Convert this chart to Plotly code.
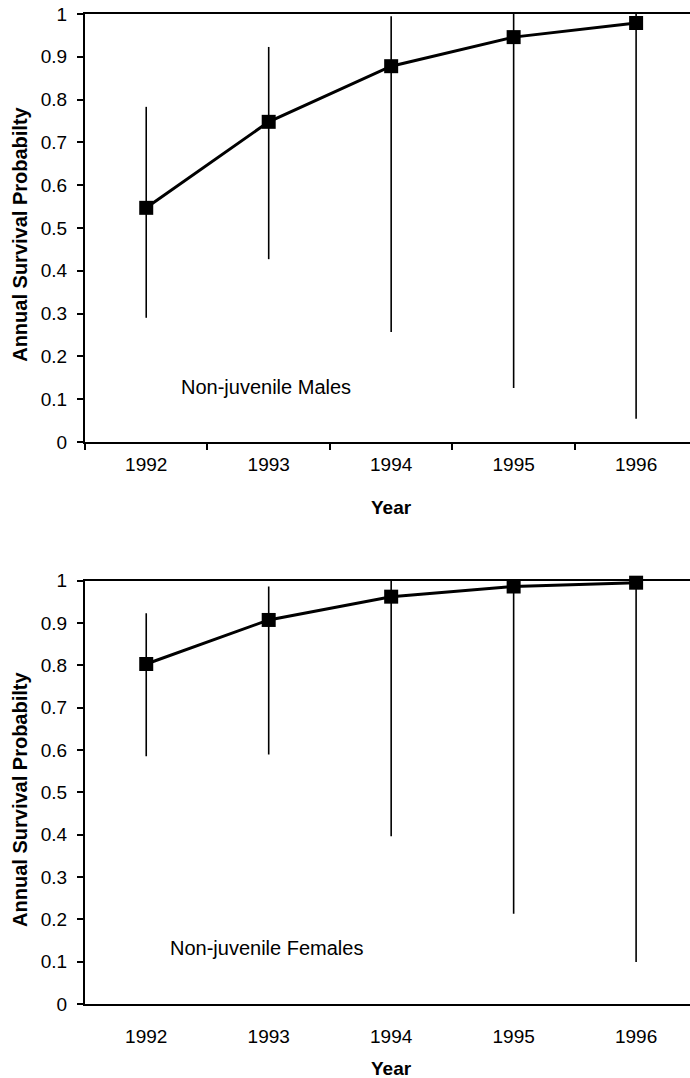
import plotly.graph_objects as go
from plotly.subplots import make_subplots

years = ["1992", "1993", "1994", "1995", "1996"]

male_est = [0.547, 0.748, 0.878, 0.946, 0.979]
male_hi = [0.783, 0.923, 0.995, 1.0, 1.0]
male_lo = [0.290, 0.427, 0.257, 0.126, 0.054]

female_est = [0.803, 0.907, 0.962, 0.986, 0.995]
female_hi = [0.923, 0.986, 1.0, 1.0, 1.0]
female_lo = [0.585, 0.589, 0.396, 0.213, 0.099]

y_ticks = [0, 0.1, 0.2, 0.3, 0.4, 0.5, 0.6, 0.7, 0.8, 0.9, 1.0]
y_tick_text = ["0", "0.1", "0.2", "0.3", "0.4", "0.5", "0.6", "0.7", "0.8", "0.9", "1"]

FONT = "Liberation Sans, Arial, sans-serif"

fig = make_subplots(rows=2, cols=1, vertical_spacing=0.14)


def add_series(est, hi, lo, row):
    fig.add_trace(
        go.Scatter(
            x=years,
            y=est,
            mode="lines+markers",
            line=dict(color="black", width=3),
            marker=dict(symbol="square", size=14, color="black"),
            error_y=dict(
                type="data",
                symmetric=False,
                array=[h - e for h, e in zip(hi, est)],
                arrayminus=[e - l for e, l in zip(est, lo)],
                color="black",
                thickness=1.6,
                width=0,
            ),
            cliponaxis=False,
            showlegend=False,
        ),
        row=row,
        col=1,
    )


add_series(male_est, male_hi, male_lo, 1)
add_series(female_est, female_hi, female_lo, 2)

common_x = dict(
    type="category",
    range=[-0.5, 4.44],
    showline=True,
    linecolor="black",
    linewidth=2,
    mirror=True,
    showgrid=False,
    zeroline=False,
    tickfont=dict(family=FONT, size=19, color="black"),
)
common_y = dict(
    range=[0, 1],
    tickvals=y_ticks,
    ticktext=y_tick_text,
    showline=True,
    linecolor="black",
    linewidth=2,
    showgrid=False,
    zeroline=False,
    ticks="outside",
    ticklen=6,
    tickwidth=1.5,
    tickcolor="black",
    ticklabelstandoff=6,
    tickfont=dict(family=FONT, size=19, color="black"),
)

fig.update_xaxes(**common_x)
fig.update_yaxes(**common_y)
fig.update_xaxes(
    ticks="outside", tickson="boundaries", ticklen=6, tickwidth=1.5,
    tickcolor="black", ticklabelstandoff=4, row=1, col=1,
)
fig.update_xaxes(ticks="", ticklabelstandoff=14, row=2, col=1)

fig.update_layout(
    width=690,
    height=1078,
    margin=dict(l=85, r=0, t=14, b=74),
    paper_bgcolor="white",
    plot_bgcolor="white",
    font=dict(family=FONT, color="black"),
    yaxis=dict(domain=[0.5678, 1.0]),
    yaxis2=dict(domain=[0.0, 0.4277]),
)

annotations = [
    dict(text="Non-juvenile Males", xref="x", yref="y", x=0.98, y=0.128,
         showarrow=False, font=dict(family=FONT, size=20, color="black")),
    dict(text="Non-juvenile Females", xref="x2", yref="y2", x=0.98, y=0.133,
         showarrow=False, font=dict(family=FONT, size=20, color="black")),
    dict(text="<b>Year</b>", xref="x", yref="paper", x=2, y=(1078 - 74 - 507) / (1078 - 88),
         yanchor="middle", showarrow=False, font=dict(family=FONT, size=19, color="black")),
    dict(text="<b>Year</b>", xref="x2", yref="paper", x=2, y=(1078 - 74 - 1068) / (1078 - 88),
         yanchor="middle", showarrow=False, font=dict(family=FONT, size=19, color="black")),
    dict(text="<b>Annual Survival Probabilty</b>", xref="paper", yref="y", x=-65 / 605, y=0.484,
         xanchor="center", yanchor="middle",
         textangle=-90, showarrow=False, font=dict(family=FONT, size=20, color="black")),
    dict(text="<b>Annual Survival Probabilty</b>", xref="paper", yref="y2", x=-65 / 605, y=0.482,
         xanchor="center", yanchor="middle",
         textangle=-90, showarrow=False, font=dict(family=FONT, size=20, color="black")),
]
fig.update_layout(annotations=annotations)

fig.write_html(
    "out.html",
    config={"displayModeBar": False},
    post_script="document.body.style.margin='0';",
)
